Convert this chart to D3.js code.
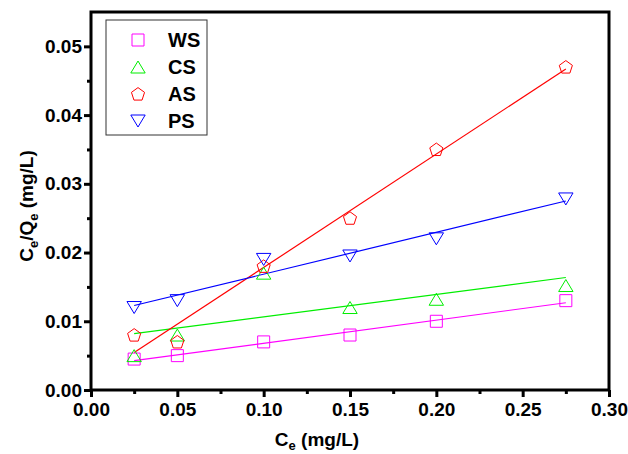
<!DOCTYPE html>
<html>
<head>
<meta charset="utf-8">
<script src="https://cdn.jsdelivr.net/npm/d3@7"></script>
<style>
  body { margin: 0; background: #fff; }
  text { font-family: Arial, "Liberation Sans", sans-serif; font-weight: bold; }
</style>
</head>
<body>
<div id="chart"></div>
<script>
// data
const ce = [0.025, 0.05, 0.1, 0.15, 0.2, 0.275];
const wsValues = [0.0045, 0.005, 0.007, 0.008, 0.010, 0.013];
const csValues = [0.005, 0.008, 0.017, 0.012, 0.0132, 0.0152];
const asValues = [0.008, 0.007, 0.018, 0.025, 0.035, 0.047];
const psValues = [0.012, 0.013, 0.019, 0.0195, 0.022, 0.0278];
const seriesNames = ['WS', 'CS', 'AS', 'PS'];
const xTicks = [0, 0.05, 0.1, 0.15, 0.2, 0.25, 0.3];
const yTicks = [0, 0.01, 0.02, 0.03, 0.04, 0.05];

const colors = { WS: '#ff00ff', CS: '#00ee00', AS: '#ff0000', PS: '#0000ff' };
const shapes = { WS: 'square', CS: 'triangle', AS: 'pentagon', PS: 'down' };
const series = [
  { name: 'WS', values: wsValues },
  { name: 'CS', values: csValues },
  { name: 'AS', values: asValues },
  { name: 'PS', values: psValues }
];

const W = 628, H = 454;
const margin = { top: 12, right: 19, bottom: 64, left: 91 };
const width = W - margin.left - margin.right;
const height = H - margin.top - margin.bottom;

const svg = d3.select('#chart').append('svg')
  .attr('width', W).attr('height', H);
const g = svg.append('g')
  .attr('transform', 'translate(' + margin.left + ',' + margin.top + ')');

const x = d3.scaleLinear().domain([0, 0.3]).range([0, width]);
const y = d3.scaleLinear().domain([0, 0.055]).range([height, 0]);

// marker path generator
function marker(type, s) {
  if (type === 'square') {
    return 'M' + (-s) + ',' + (-s) + 'H' + s + 'V' + s + 'H' + (-s) + 'Z';
  }
  if (type === 'triangle') {
    const w = s * 1.2, h = s;
    return 'M0,' + (-h) + 'L' + w + ',' + h + 'L' + (-w) + ',' + h + 'Z';
  }
  if (type === 'down') {
    const w = s * 1.2, h = s;
    return 'M0,' + h + 'L' + w + ',' + (-h) + 'L' + (-w) + ',' + (-h) + 'Z';
  }
  const r = s * 1.15;
  const pts = d3.range(5).map(i => {
    const a = -Math.PI / 2 + i * 2 * Math.PI / 5;
    return [r * Math.cos(a), r * Math.sin(a) + 0.5];
  });
  return 'M' + pts.map(p => p.join(',')).join('L') + 'Z';
}

// least squares fit for each series
function fit(xs, ys) {
  const mx = d3.mean(xs), my = d3.mean(ys);
  let sxy = 0, sxx = 0;
  xs.forEach((v, i) => { sxy += (v - mx) * (ys[i] - my); sxx += (v - mx) * (v - mx); });
  const b = sxy / sxx;
  return { b: b, a: my - b * mx };
}

const plot = g.append('g');

series.forEach(s => {
  const f = fit(ce, s.values);
  const x0 = d3.min(ce), x1 = d3.max(ce);
  plot.append('line')
    .attr('x1', x(x0)).attr('y1', y(f.a + f.b * x0))
    .attr('x2', x(x1)).attr('y2', y(f.a + f.b * x1))
    .attr('stroke', colors[s.name]).attr('stroke-width', 1.2);
});

series.forEach(s => {
  plot.selectAll(null)
    .data(ce.map((c, i) => [c, s.values[i]]))
    .enter().append('path')
    .attr('d', marker(shapes[s.name], 6))
    .attr('transform', d => 'translate(' + x(d[0]) + ',' + y(d[1]) + ')')
    .attr('fill', 'none')
    .attr('stroke', colors[s.name])
    .attr('stroke-width', 1);
});

// frame
g.append('rect')
  .attr('width', width).attr('height', height)
  .attr('fill', 'none').attr('stroke', '#000').attr('stroke-width', 3);

// axes
const xAxis = g.append('g').attr('transform', 'translate(0,' + height + ')')
  .call(d3.axisBottom(x).tickValues(xTicks).tickFormat(d3.format('.2f')).tickSize(7).tickPadding(6));
const xMinor = g.append('g').attr('transform', 'translate(0,' + height + ')')
  .call(d3.axisBottom(x).tickValues(d3.range(0.025, 0.3, 0.05)).tickFormat('').tickSize(4));
const yAxis = g.append('g')
  .call(d3.axisLeft(y).tickValues(yTicks).tickFormat(d3.format('.2f')).tickSize(7).tickPadding(2));
const yMinor = g.append('g')
  .call(d3.axisLeft(y).tickValues(d3.range(0.005, 0.055, 0.01)).tickFormat('').tickSize(4));

[xAxis, xMinor, yAxis, yMinor].forEach(a => {
  a.select('.domain').remove();
  a.selectAll('line').attr('stroke', '#000').attr('stroke-width', 3);
  a.selectAll('text').attr('fill', '#000').style('font-size', '19px');
});

// axis titles
const xt = svg.append('text')
  .attr('x', 317).attr('y', 446)
  .attr('text-anchor', 'middle')
  .style('font-size', '19px');
xt.append('tspan').text('C');
xt.append('tspan').text('e').attr('dy', 4).style('font-size', '13px');
xt.append('tspan').text(' (mg/L)').attr('dy', -4);

const yt = svg.append('text')
  .attr('transform', 'translate(33,206) rotate(-90)')
  .attr('text-anchor', 'middle')
  .style('font-size', '19px');
yt.append('tspan').text('C');
yt.append('tspan').text('e').attr('dy', 5).style('font-size', '13px');
yt.append('tspan').text('/Q').attr('dy', -5);
yt.append('tspan').text('e').attr('dy', 5).style('font-size', '13px');
yt.append('tspan').text(' (mg/L)').attr('dy', -5);

// legend
const legend = svg.append('g').attr('transform', 'translate(106,20)');
legend.append('rect')
  .attr('width', 101).attr('height', 115)
  .attr('fill', '#fff').attr('stroke', '#333').attr('stroke-width', 1);
seriesNames.forEach((name, i) => {
  const ry = 20 + i * 27;
  legend.append('path')
    .attr('d', marker(shapes[name], 6))
    .attr('transform', 'translate(32,' + ry + ')')
    .attr('fill', 'none').attr('stroke', colors[name]).attr('stroke-width', 1);
  legend.append('text')
    .attr('x', 62).attr('y', ry + 7)
    .style('font-size', '20px')
    .text(name);
});
</script>
</body>
</html>
